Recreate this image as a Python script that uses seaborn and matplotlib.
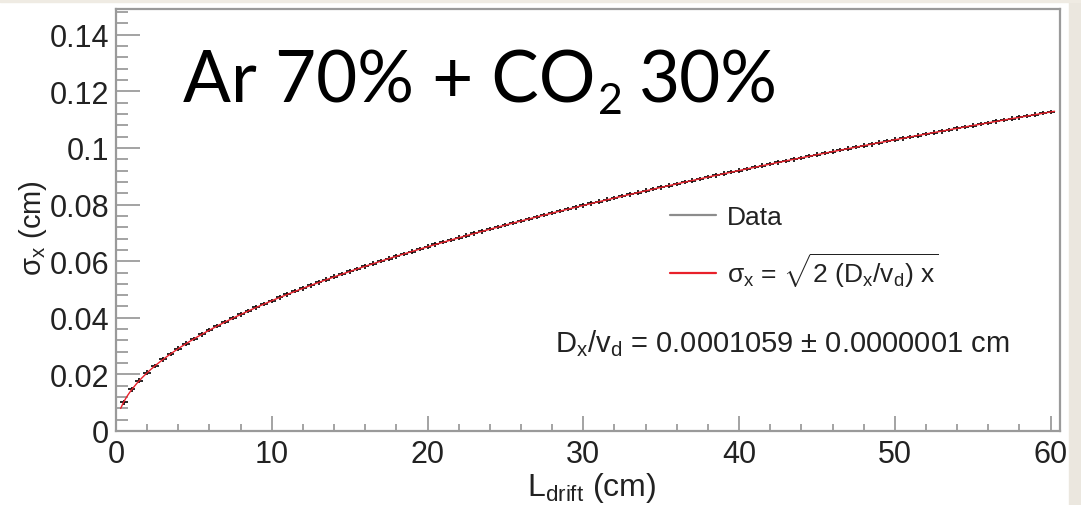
import numpy as np
import matplotlib
matplotlib.use("Agg")
import matplotlib.pyplot as plt
from matplotlib.lines import Line2D
from matplotlib.patches import Rectangle
from matplotlib.ticker import MultipleLocator, FuncFormatter
import seaborn as sns

# Transverse diffusion width vs drift length, Ar 70% + CO2 30%
drift_cm = [
    0.5, 1.0, 1.5, 2.0, 2.5, 3.0, 3.5, 4.0, 4.5, 5.0,
    5.5, 6.0, 6.5, 7.0, 7.5, 8.0, 8.5, 9.0, 9.5, 10.0,
    10.5, 11.0, 11.5, 12.0, 12.5, 13.0, 13.5, 14.0, 14.5, 15.0,
    15.5, 16.0, 16.5, 17.0, 17.5, 18.0, 18.5, 19.0, 19.5, 20.0,
    20.5, 21.0, 21.5, 22.0, 22.5, 23.0, 23.5, 24.0, 24.5, 25.0,
    25.5, 26.0, 26.5, 27.0, 27.5, 28.0, 28.5, 29.0, 29.5, 30.0,
    30.5, 31.0, 31.5, 32.0, 32.5, 33.0, 33.5, 34.0, 34.5, 35.0,
    35.5, 36.0, 36.5, 37.0, 37.5, 38.0, 38.5, 39.0, 39.5, 40.0,
    40.5, 41.0, 41.5, 42.0, 42.5, 43.0, 43.5, 44.0, 44.5, 45.0,
    45.5, 46.0, 46.5, 47.0, 47.5, 48.0, 48.5, 49.0, 49.5, 50.0,
    50.5, 51.0, 51.5, 52.0, 52.5, 53.0, 53.5, 54.0, 54.5, 55.0,
    55.5, 56.0, 56.5, 57.0, 57.5, 58.0, 58.5, 59.0, 59.5, 60.0,
]
sigma_cm = [
    0.0101, 0.0147, 0.0178, 0.0206, 0.0230, 0.0253, 0.0272, 0.0291, 0.0309, 0.0325,
    0.0341, 0.0357, 0.0371, 0.0385, 0.0399, 0.0412, 0.0424, 0.0437, 0.0449, 0.0460,
    0.0472, 0.0483, 0.0494, 0.0504, 0.0515, 0.0525, 0.0535, 0.0545, 0.0554, 0.0564,
    0.0573, 0.0582, 0.0591, 0.0600, 0.0609, 0.0617, 0.0626, 0.0634, 0.0643, 0.0651,
    0.0659, 0.0667, 0.0675, 0.0683, 0.0690, 0.0698, 0.0705, 0.0713, 0.0720, 0.0728,
    0.0735, 0.0742, 0.0749, 0.0756, 0.0763, 0.0770, 0.0777, 0.0784, 0.0790, 0.0797,
    0.0804, 0.0810, 0.0817, 0.0823, 0.0830, 0.0836, 0.0842, 0.0849, 0.0855, 0.0861,
    0.0867, 0.0873, 0.0879, 0.0885, 0.0891, 0.0897, 0.0903, 0.0909, 0.0915, 0.0920,
    0.0926, 0.0932, 0.0938, 0.0943, 0.0949, 0.0954, 0.0960, 0.0965, 0.0971, 0.0976,
    0.0982, 0.0987, 0.0992, 0.0998, 0.1003, 0.1008, 0.1013, 0.1019, 0.1024, 0.1029,
    0.1034, 0.1039, 0.1044, 0.1049, 0.1054, 0.1059, 0.1064, 0.1069, 0.1074, 0.1079,
    0.1084, 0.1089, 0.1094, 0.1099, 0.1104, 0.1108, 0.1113, 0.1118, 0.1123, 0.1127,
]
bin_half_width = 0.25
sigma_err = 0.0008

# Fitted parameter D_x / v_d (cm)
dx_over_vd = 0.0001059
dx_over_vd_err = 0.0000001

sns.set_theme(style="white")
plt.rcParams["font.family"] = ["Liberation Sans", "DejaVu Sans"]
plt.rcParams["mathtext.fontset"] = "custom"
plt.rcParams["mathtext.rm"] = "Liberation Sans"
plt.rcParams["mathtext.it"] = "Liberation Sans"
plt.rcParams["mathtext.default"] = "regular"

W, H = 1081, 506
fig = plt.figure(figsize=(W / 100, H / 100), dpi=100)
fig.patch.set_facecolor("white")

# slide border strips
fig.patches.append(Rectangle((1069 / W, 0), 12 / W, 1, transform=fig.transFigure,
                             color="#ebe7df", zorder=-5))
fig.patches.append(Rectangle((0, 1 - 3 / H), 1, 3 / H, transform=fig.transFigure,
                             color="#efebe3", zorder=-5))

ax = fig.add_axes([116 / W, 1 - 432 / H, (1060 - 116) / W, (432 - 10) / H])

x = np.asarray(drift_cm)
y = np.asarray(sigma_cm)
ax.errorbar(x, y, xerr=bin_half_width, yerr=sigma_err, fmt="none",
            ecolor="black", elinewidth=1.2, capsize=0, zorder=2)

fit_x = np.linspace(0.3, 60.25, 400)
fit_y = np.sqrt(2 * dx_over_vd * fit_x)
sns.lineplot(x=fit_x, y=fit_y, ax=ax, color="#e8202a", lw=1.0, zorder=3,
             legend=False)

ax.set_xlim(0, 60.6)
ax.set_ylim(0, 0.1491)
ax.set_xlabel("")
ax.set_ylabel("")

frame_col = "#9a9a9a"
for side in ["left", "right", "top", "bottom"]:
    ax.spines[side].set_color(frame_col)
    ax.spines[side].set_linewidth(1.6)

ax.xaxis.set_major_locator(MultipleLocator(10))
ax.xaxis.set_minor_locator(MultipleLocator(2))
ax.yaxis.set_major_locator(MultipleLocator(0.02))
ax.yaxis.set_minor_locator(MultipleLocator(0.004))
ax.yaxis.set_major_formatter(FuncFormatter(lambda v, p: f"{v:g}"))
ax.xaxis.set_major_formatter(FuncFormatter(lambda v, p: f"{v:g}"))

tick_col = "#8a8a8a"
ax.tick_params(axis="x", which="major", direction="in", length=11, width=1.1,
               color=tick_col, labelsize=22, pad=6, labelcolor="#222222",
               bottom=True)
ax.tick_params(axis="x", which="minor", direction="in", length=5, width=1.1,
               color=tick_col, bottom=True)
ax.tick_params(axis="y", which="major", direction="in", length=17, width=1.1,
               color=tick_col, labelsize=22, pad=5, labelcolor="#222222",
               left=True)
ax.tick_params(axis="y", which="minor", direction="in", length=8.5, width=1.1,
               color=tick_col, left=True)

# axis titles
fig.text(592 / W, 1 - 488 / H, r"L$_{drift}$ (cm)", fontsize=23, ha="center",
         va="center", color="#222222")
fig.text(33 / W, 1 - 228 / H, r"$\sigma_{x}$ (cm)", fontsize=21, rotation=90,
         ha="center", va="center", color="#222222")

# legend
handles = [Line2D([], [], color="#8c8c8c", lw=1.6),
           Line2D([], [], color="#e8202a", lw=1.6)]
labels = ["Data", r"$\sigma_{x}$ = $\sqrt{2\ (D_{x}/v_{d})\ x}$"]
ax.legend(handles, labels, loc="upper left",
          bbox_to_anchor=(670 / W, 1 - 206 / H), bbox_transform=fig.transFigure,
          frameon=False, fontsize=19, handlelength=1.75, handletextpad=0.4,
          labelspacing=0.8, borderpad=0, borderaxespad=0, labelcolor="#222222")

fig.text(555 / W, 1 - 344 / H,
         r"D$_{x}$/v$_{d}$ = " + f"{dx_over_vd:.7f} ± {dx_over_vd_err:.7f} cm",
         fontsize=21, ha="left", va="center", color="#222222")

# gas mixture title with a lowered subscript
fam = ["Lato", "DejaVu Sans"]
base_y = 1 - 103 / H
t1 = fig.text(183 / W, base_y, "Ar 70% + CO", fontsize=51, family=fam,
              ha="left", va="baseline", color="black")
fig.canvas.draw()
bb = t1.get_window_extent()
t2 = fig.text(bb.x1 / W + 2 / W, base_y - 11 / H, "2", fontsize=31, family=fam,
              ha="left", va="baseline", color="black")
fig.canvas.draw()
bb2 = t2.get_window_extent()
fig.text(bb2.x1 / W + 17 / W, base_y, "30%", fontsize=51, family=fam,
         ha="left", va="baseline", color="black")

fig.savefig("out.png", dpi=100)
